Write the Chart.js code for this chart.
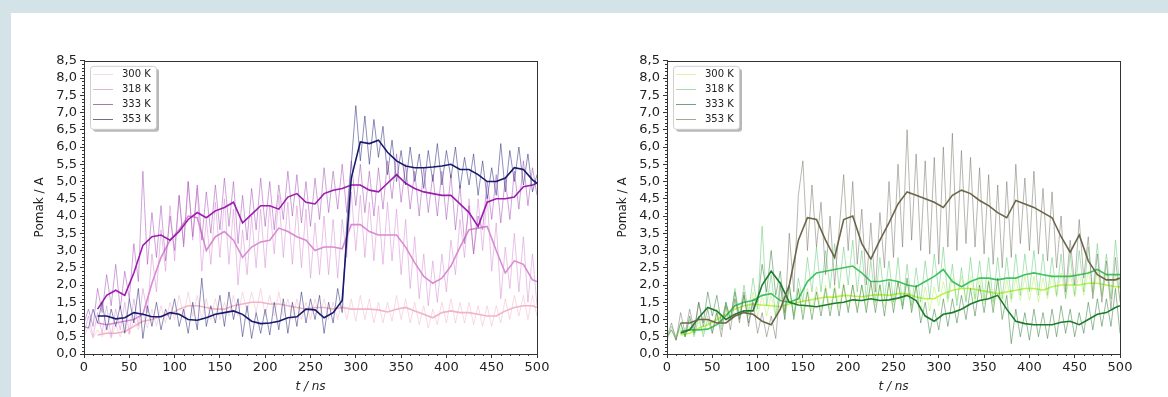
<!DOCTYPE html>
<html>
<head>
<meta charset="utf-8">
<script src="https://cdn.jsdelivr.net/npm/chart.js@4"></script>
<style>
  html, body { margin: 0; padding: 0; width: 1168px; height: 397px; overflow: hidden; background: #d4e3e8; }
  #panel { position: absolute; left: 11px; top: 13px; right: 0; bottom: 0; background: #fff; }
  .box { position: absolute; top: 50px; width: 526px; height: 345px; }
</style>
</head>
<body>
<div id="panel"></div>
<div class="box" style="left:31px"><canvas id="left" width="526" height="345"></canvas></div>
<div class="box" style="left:614px"><canvas id="right" width="526" height="345"></canvas></div>
<script>
const temps = ['300 K', '318 K', '333 K', '353 K'];

// sampling times (ns) of the raw traces and of the running averages
const rawTimes = [];
for (let t = 0; t <= 500; t += 5) rawTimes.push(t);
const avgTimes = [];
for (let t = 15; t <= 495; t += 10) avgTimes.push(t);
avgTimes.push(500);

// left panel, raw displacement
const leftRaw300 = [0.5,0.8,0.45,0.7,0.5,0.8,0.45,0.85,0.5,0.9,
  0.55,1.0,0.7,1.2,0.75,1.3,0.8,1.4,0.9,1.5,
  1.0,1.7,1.1,1.8,1.1,1.7,1.0,1.6,1.0,1.6,
  1.0,1.5,1.1,1.7,1.1,1.8,1.2,1.8,1.2,1.9,
  1.1,1.7,1.1,1.8,1.1,1.6,1.0,1.6,1.0,1.5,
  1.0,1.6,1.1,1.6,1.0,1.5,1.0,1.6,1.0,1.6,
  0.95,1.7,1.0,1.6,0.9,1.5,0.9,1.5,0.95,1.7,
  1.0,1.6,0.9,1.5,0.85,1.4,0.75,1.3,0.85,1.5,
  0.9,1.6,0.9,1.5,0.9,1.5,0.85,1.4,0.8,1.4,
  0.8,1.4,0.9,1.6,1.0,1.7,1.1,1.7,1.0,1.7,
  1.1];
const leftRaw318 = [0.6,1.1,0.5,1.2,0.6,1.4,0.5,1.3,0.7,1.5,
  0.6,1.6,0.8,1.9,1.2,2.9,1.8,3.6,2.4,4.3,
  2.7,4.6,3.2,5.0,3.3,4.8,2.4,3.9,2.6,4.4,
  2.8,4.5,2.6,4.2,2.0,3.6,2.3,4.0,2.5,4.2,
  2.5,4.3,2.9,4.6,2.8,4.4,2.6,4.3,2.5,4.2,
  2.2,3.8,2.3,4.0,2.3,3.9,2.2,3.9,2.8,4.7,
  3.0,4.6,2.8,4.4,2.7,4.3,2.6,4.4,2.7,4.2,
  2.3,3.9,1.9,3.4,1.6,2.9,1.4,2.7,1.5,2.9,
  1.8,3.3,2.3,3.9,2.8,4.5,2.9,4.5,3.0,4.6,
  2.4,3.8,1.6,3.1,1.9,3.5,1.8,3.4,1.5,2.9,
  1.4];
const leftRaw333 = [0.9,1.3,0.8,1.9,1.2,2.3,1.4,2.6,1.3,2.4,
  1.6,3.2,2.1,5.3,2.6,4.1,2.8,4.3,2.7,4.0,
  3.0,4.6,3.1,5.0,3.4,4.9,3.3,4.7,3.5,4.9,
  3.6,5.1,3.7,5.0,3.2,4.6,3.3,4.8,3.6,5.1,
  3.7,5.0,3.6,4.9,3.9,5.3,4.0,5.2,3.8,5.0,
  3.7,5.1,3.9,5.4,4.1,5.3,4.2,5.5,4.1,5.6,
  4.3,5.5,4.1,5.3,4.0,5.4,4.2,5.6,4.5,5.8,
  4.4,5.5,4.2,5.3,4.0,5.4,4.1,5.2,4.0,5.3,
  3.9,5.2,3.6,4.9,3.2,4.3,2.9,4.0,3.6,5.0,
  3.9,5.2,3.8,5.1,3.9,5.3,4.2,5.6,4.3,5.4,
  4.6];
const leftRaw353 = [0.8,0.75,1.3,0.9,1.5,0.7,1.3,0.8,1.4,0.6,
  1.6,0.9,1.9,0.45,1.4,0.8,1.5,0.7,1.3,1.0,
  1.6,0.8,1.3,0.6,1.5,0.7,2.2,0.8,1.4,0.9,
  1.7,0.8,1.8,1.0,1.6,0.5,1.4,0.45,1.2,0.6,
  1.3,0.55,1.5,0.7,1.6,0.6,1.5,0.8,1.8,0.9,
  1.6,1.0,1.7,0.6,1.5,0.9,1.9,1.2,3.8,5.5,
  7.2,5.6,6.9,5.5,6.8,5.7,6.6,5.2,6.2,5.0,
  5.9,4.9,6.0,5.0,5.8,4.8,5.9,5.0,6.1,4.9,
  5.9,5.1,6.0,4.8,5.7,4.9,5.8,4.6,5.6,4.5,
  5.4,4.6,6.1,4.7,5.9,5.0,6.0,4.9,5.8,4.7,
  5.2];

// left panel, running averages
const leftAvg300 = [0.55,0.60,0.60,0.65,0.80,0.95,1.00,1.10,1.15,1.30,
  1.40,1.40,1.35,1.30,1.30,1.40,1.45,1.50,1.50,1.45,
  1.45,1.40,1.35,1.30,1.35,1.35,1.30,1.35,1.30,1.30,
  1.30,1.28,1.22,1.30,1.35,1.25,1.15,1.05,1.20,1.25,
  1.20,1.20,1.15,1.10,1.10,1.25,1.35,1.40,1.40,
  1.35];
const leftAvg318 = [0.90,0.85,0.90,0.95,1.00,1.15,2.05,2.80,3.30,3.60,
  4.00,3.95,3.00,3.40,3.55,3.30,2.80,3.10,3.25,3.30,
  3.65,3.55,3.40,3.30,3.00,3.10,3.10,3.05,3.75,3.75,
  3.55,3.45,3.45,3.45,3.10,2.65,2.25,2.05,2.20,2.55,
  3.10,3.60,3.65,3.70,3.00,2.35,2.70,2.60,2.15,
  2.10];
const leftAvg333 = [1.30,1.70,1.85,1.70,2.35,3.15,3.40,3.45,3.30,3.55,
  3.90,4.10,3.95,4.15,4.25,4.40,3.80,4.05,4.30,4.30,
  4.20,4.55,4.65,4.40,4.35,4.65,4.75,4.80,4.90,4.90,
  4.75,4.70,4.95,5.20,4.95,4.80,4.70,4.65,4.60,4.60,
  4.35,4.10,3.70,4.40,4.50,4.50,4.55,4.85,4.90,
  4.95];
const leftAvg353 = [1.10,1.10,1.02,1.05,1.20,1.15,1.08,1.08,1.20,1.15,
  1.00,0.98,1.05,1.15,1.20,1.25,1.15,0.95,0.88,0.90,
  0.95,1.05,1.08,1.30,1.28,1.05,1.20,1.55,5.10,6.15,
  6.10,6.20,5.85,5.60,5.45,5.40,5.40,5.42,5.45,5.50,
  5.35,5.35,5.20,5.00,5.00,5.10,5.40,5.35,5.05,
  4.95];

// right panel, raw displacement
const rightRaw300 = [0.4,0.7,0.45,0.75,0.5,0.8,0.55,0.95,0.6,1.1,
  0.7,1.3,0.8,1.4,0.95,1.6,1.05,1.7,1.1,1.8,
  1.1,1.7,1.1,1.7,1.05,1.65,1.1,1.8,1.15,1.85,
  1.2,1.9,1.25,1.95,1.3,2.0,1.3,2.0,1.35,2.05,
  1.3,2.0,1.3,2.0,1.35,2.05,1.4,2.05,1.35,2.05,
  1.4,2.1,1.4,2.1,1.3,2.0,1.25,1.95,1.25,1.95,
  1.4,2.1,1.5,2.2,1.55,2.25,1.55,2.25,1.5,2.2,
  1.45,2.15,1.4,2.1,1.45,2.15,1.5,2.2,1.55,2.25,
  1.55,2.25,1.5,2.2,1.6,2.3,1.65,2.35,1.65,2.35,
  1.65,2.35,1.7,2.4,1.7,2.4,1.65,2.35,1.6,2.3,
  1.6];
const rightRaw318 = [0.4,0.8,0.5,0.9,0.5,1.0,0.5,1.1,0.5,1.0,
  0.6,1.2,0.7,1.5,1.0,1.9,1.1,2.0,1.2,2.2,
  1.3,3.7,1.4,2.3,1.1,2.1,1.0,2.0,1.1,2.2,
  1.5,2.8,1.8,3.1,1.8,3.0,1.9,3.2,1.9,3.1,
  2.0,3.3,1.8,3.0,1.6,2.7,1.5,2.8,1.6,2.7,
  1.5,2.8,1.4,2.6,1.4,2.5,1.5,2.7,1.6,2.9,
  1.8,3.1,1.6,2.6,1.4,2.5,1.5,2.8,1.6,2.7,
  1.6,2.8,1.5,2.8,1.6,2.8,1.6,2.9,1.7,2.9,
  1.8,3.0,1.7,2.9,1.7,2.8,1.7,2.9,1.6,2.9,
  1.7,3.0,1.8,3.1,1.8,3.2,1.7,2.9,1.6,3.3,
  1.9];
const rightRaw333 = [0.5,0.7,0.4,0.9,0.5,1.1,0.6,1.5,0.9,1.8,
  1.1,1.7,0.9,1.5,1.0,1.8,1.0,1.7,0.9,1.6,
  1.5,2.6,1.8,3.0,1.7,2.4,1.2,2.0,1.0,1.9,
  1.0,1.8,1.0,1.8,1.1,1.9,1.1,1.9,1.1,2.0,
  1.2,2.0,1.2,2.0,1.2,2.1,1.2,2.0,1.1,2.1,
  1.2,2.1,1.3,2.2,1.2,2.0,0.9,1.5,0.6,1.3,
  0.7,1.6,0.8,1.6,0.9,1.7,1.0,1.9,1.1,2.0,
  1.2,2.1,1.2,2.2,1.0,1.7,0.3,1.3,0.5,1.2,
  0.4,1.3,0.5,1.2,0.45,1.3,0.5,1.4,0.6,1.3,
  0.5,1.2,0.6,1.5,0.7,1.6,0.8,1.6,0.8,1.9,
  0.6];
const rightRaw353 = [0.5,0.9,0.4,1.2,0.6,1.3,0.7,1.5,0.8,1.3,
  0.6,1.2,0.5,1.4,0.7,1.6,0.9,1.8,0.8,1.5,
  0.6,1.2,0.5,1.1,0.45,2.0,1.0,3.5,1.8,4.6,
  5.6,3.0,4.9,3.1,4.4,2.3,4.0,2.0,3.6,5.2,
  3.0,5.0,2.6,4.2,2.0,3.8,1.8,4.1,2.5,5.0,
  2.8,5.5,3.1,6.5,3.3,5.8,3.0,5.6,2.9,5.7,
  2.6,6.0,3.1,6.4,3.0,5.9,3.2,5.7,3.1,5.4,
  2.9,5.2,2.6,4.9,2.5,5.0,2.8,5.5,3.2,5.1,
  3.0,5.3,2.9,4.8,2.7,4.7,2.5,4.0,1.8,3.3,
  2.0,3.9,2.2,3.4,1.6,2.9,1.5,2.7,1.3,2.8,
  1.5];

// right panel, running averages
const rightAvg300 = [0.55,0.60,0.75,0.85,1.00,1.15,1.30,1.40,1.45,1.42,
  1.40,1.37,1.45,1.50,1.55,1.60,1.65,1.65,1.70,1.68,
  1.66,1.70,1.72,1.70,1.75,1.75,1.65,1.60,1.60,1.75,
  1.85,1.90,1.90,1.85,1.80,1.75,1.80,1.85,1.90,1.90,
  1.85,1.95,2.00,2.00,2.00,2.05,2.05,2.00,1.95,
  1.95];
const rightAvg318 = [0.65,0.70,0.70,0.72,0.85,1.10,1.40,1.50,1.55,1.70,
  1.75,1.55,1.50,1.60,2.10,2.35,2.40,2.45,2.50,2.55,
  2.35,2.10,2.10,2.15,2.10,2.00,1.95,2.10,2.25,2.45,
  2.10,1.95,2.10,2.20,2.20,2.15,2.20,2.20,2.30,2.35,
  2.30,2.25,2.25,2.25,2.30,2.35,2.45,2.30,2.30,
  2.30];
const rightAvg333 = [0.60,0.70,1.05,1.35,1.25,1.00,1.15,1.25,1.25,2.00,
  2.40,2.05,1.50,1.42,1.40,1.37,1.42,1.47,1.50,1.57,
  1.55,1.60,1.55,1.57,1.62,1.70,1.55,1.10,0.95,1.15,
  1.20,1.30,1.45,1.55,1.60,1.70,1.30,0.95,0.88,0.85,
  0.85,0.85,0.92,0.95,0.85,1.00,1.15,1.20,1.35,
  1.40];
const rightAvg353 = [0.90,0.90,1.00,1.00,0.90,0.90,1.10,1.20,1.15,0.95,
  0.85,1.30,2.00,3.30,3.95,3.90,3.30,2.80,3.90,4.00,
  3.20,2.75,3.30,3.80,4.35,4.70,4.60,4.50,4.40,4.25,
  4.60,4.75,4.65,4.45,4.30,4.10,3.95,4.45,4.35,4.25,
  4.10,3.95,3.40,2.95,3.45,2.70,2.30,2.15,2.15,
  2.20];

const FONT = 'DejaVu Sans';
const AXIS = '#333';

// box around the plot area plus short minor ticks
const frameTicks = {
  id: 'frameTicks',
  afterDatasetsDraw(chart) {
    const { ctx, chartArea: a, scales: { x, y } } = chart;
    ctx.save();
    ctx.strokeStyle = AXIS;
    ctx.lineWidth = 1;
    ctx.strokeRect(Math.round(a.left) + 0.5, Math.round(a.top) + 0.5,
      Math.round(a.right - a.left), Math.round(a.bottom - a.top));
    ctx.beginPath();
    for (let t = 0; t <= 500; t += 10) {
      if (t % 50 === 0) continue;
      const px = Math.round(x.getPixelForValue(t)) + 0.5;
      ctx.moveTo(px, a.bottom);
      ctx.lineTo(px, a.bottom + 2);
    }
    for (let k = 0; k <= 85; k++) {
      if (k % 5 === 0) continue;
      const py = Math.round(y.getPixelForValue(k / 10)) + 0.5;
      ctx.moveTo(a.left, py);
      ctx.lineTo(a.left - 2, py);
    }
    ctx.stroke();
    ctx.restore();
  }
};

// framed legend in the upper left corner, one row per temperature
const legendBox = {
  id: 'legendBox',
  afterDatasetsDraw(chart) {
    const { ctx, chartArea: a } = chart;
    const items = chart.data.datasets.filter(d => d.label);
    const bx = a.left + 6, by = a.top + 5, bw = 66, bh = 63;
    ctx.save();
    ctx.fillStyle = 'rgba(0,0,0,0.28)';
    ctx.beginPath();
    ctx.roundRect(bx + 3, by + 3, bw, bh, 3);
    ctx.fill();
    ctx.fillStyle = '#fff';
    ctx.strokeStyle = '#cfcfcf';
    ctx.lineWidth = 1;
    ctx.beginPath();
    ctx.roundRect(bx + 0.5, by + 0.5, bw, bh, 3);
    ctx.fill();
    ctx.stroke();
    ctx.font = '10px "' + FONT + '"';
    ctx.textBaseline = 'middle';
    ctx.fillStyle = '#222';
    items.forEach((d, i) => {
      const cy = Math.round(by + 8 + 15 * i) + 0.5;
      ctx.strokeStyle = d.legendColor;
      ctx.beginPath();
      ctx.moveTo(bx + 3, cy);
      ctx.lineTo(bx + 23, cy);
      ctx.stroke();
      ctx.fillText(d.label, bx + 32, cy);
    });
    ctx.restore();
  }
};

function series(times, values) {
  return times.map((t, i) => ({ x: t, y: values[i] }));
}

function buildChart(id, raws, avgs, rawColors, avgColors, legendColors) {
  const datasets = [];
  temps.forEach((name, i) => {
    datasets.push({
      label: name,
      legendColor: legendColors[i],
      data: series(rawTimes, raws[i]),
      borderColor: rawColors[i],
      borderWidth: 0.7,
      pointRadius: 0,
      order: 8 - 2 * i
    });
    datasets.push({
      label: '',
      data: series(avgTimes, avgs[i]),
      borderColor: avgColors[i],
      borderWidth: 1.6,
      pointRadius: 0,
      order: 7 - 2 * i
    });
  });

  const tickFont = { family: FONT, size: 13 };
  return new Chart(document.getElementById(id), {
    type: 'line',
    data: { datasets },
    options: {
      responsive: false,
      animation: false,
      layout: { padding: { top: 10, right: 20, left: 0, bottom: 0 } },
      plugins: { legend: { display: false }, tooltip: { enabled: false } },
      scales: {
        x: {
          type: 'linear', min: 0, max: 500,
          ticks: { stepSize: 50, color: '#222', font: tickFont, padding: 2, maxRotation: 0, autoSkip: false },
          grid: { drawOnChartArea: false, tickLength: 4, color: AXIS },
          border: { color: AXIS },
          title: { display: true, text: 't / ns', color: '#222', font: { family: FONT, size: 12, style: 'italic' }, padding: { top: 0, bottom: 1 } },
          afterFit(s) { s.height = 41; }
        },
        y: {
          min: 0, max: 8.5,
          ticks: { stepSize: 0.5, color: '#222', font: tickFont, padding: 3, autoSkip: false,
            callback: v => v.toFixed(1).replace('.', ',') },
          grid: { drawOnChartArea: false, tickLength: 4, color: AXIS },
          border: { color: AXIS },
          title: { display: true, text: 'Pomak / A', color: '#222', font: { family: FONT, size: 12 }, padding: { top: 2, bottom: 0 } },
          afterFit(s) { s.width = 53; }
        }
      }
    },
    plugins: [frameTicks, legendBox]
  });
}

buildChart('left',
  [leftRaw300, leftRaw318, leftRaw333, leftRaw353],
  [leftAvg300, leftAvg318, leftAvg333, leftAvg353],
  ['rgba(242,188,204,0.8)', 'rgba(214,140,210,0.75)', 'rgba(160,70,180,0.7)', 'rgba(40,40,120,0.75)'],
  ['#f0b4c6', '#d88ad2', '#9c1cae', '#18186c'],
  ['#f2dde4', '#e2b4cf', '#a77aa8', '#6e6e86']);

buildChart('right',
  [rightRaw300, rightRaw318, rightRaw333, rightRaw353],
  [rightAvg300, rightAvg318, rightAvg333, rightAvg353],
  ['rgba(190,240,110,0.8)', 'rgba(90,200,110,0.7)', 'rgba(40,120,50,0.7)', 'rgba(110,110,95,0.7)'],
  ['#bdf24a', '#3fc35e', '#1b7d2a', '#6b6649'],
  ['#e4f0a8', '#a8dcb0', '#7a9e80', '#a8a890']);
</script>
</body>
</html>
